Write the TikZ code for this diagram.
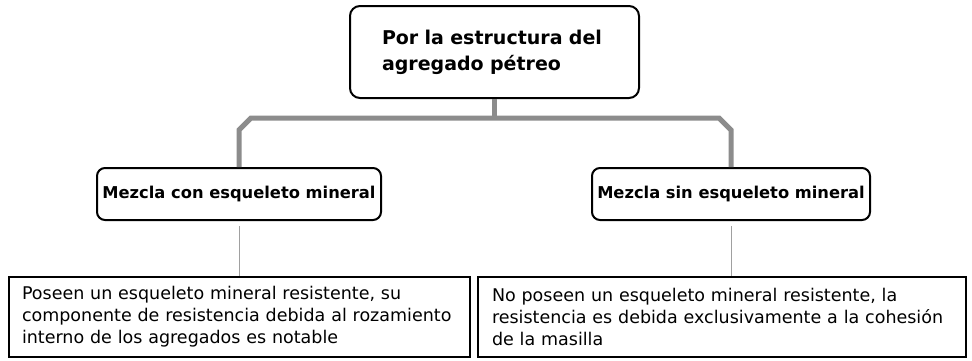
\documentclass[tikz,border=0pt]{standalone}
\usepackage{fontspec}
\setmainfont{DejaVu Sans}
\usepackage{tikz}
\usetikzlibrary{calc}
\definecolor{trunkgray}{HTML}{8C8C8C}
\definecolor{leafgray}{HTML}{A0A0A0}

\begin{document}
\begin{tikzpicture}[x=1pt,y=1pt]
\tikzstyle{rootbox}=[draw,line width=2pt,rounded corners=10pt,align=left,text width=225pt,inner xsep=32pt,minimum height=92pt,font=\fontsize{19}{26}\selectfont\bfseries]
\tikzstyle{kindbox}=[draw,line width=2pt,rounded corners=8pt,align=center,minimum height=52pt,font=\fontsize{16.3}{18}\selectfont\bfseries]
\tikzstyle{descbox}=[draw,line width=1.6pt,align=left,minimum height=80pt,font=\fontsize{17.5}{22}\selectfont]
\tikzstyle{trunk}=[draw=trunkgray,line width=5pt]
\tikzstyle{leaf}=[draw=leafgray,line width=1pt]
\useasboundingbox (0,0) rectangle (972,360);
\node[rootbox] (root) at (494.5,308) {Por la estructura del\\agregado pétreo};
\node[kindbox,minimum width=284pt] (con) at (239,166) {Mezcla con esqueleto mineral};
\node[kindbox,minimum width=278pt] (sin) at (731,166) {Mezcla sin esqueleto mineral};
\node[descbox,text width=435pt,inner xsep=13pt] (condesc) at (239.5,43) {Poseen un esqueleto mineral resistente, su\\componente de resistencia debida al rozamiento\\interno de los agregados es notable};
\node[descbox,text width=460pt,inner xsep=14pt] (sindesc) at (722,43) {No poseen un esqueleto mineral resistente, la\\resistencia es debida exclusivamente a la cohesión\\de la masilla};
% tree bar
\coordinate (bar) at (0,242);
\draw[trunk] (root.south) -- (root.south |- bar);
\draw[trunk] (con.north) -- ($(con.north |- bar)+(0,-12)$) -- ($(con.north |- bar)+(12,0)$)
  -- ($(sin.north |- bar)+(-12,0)$) -- ($(sin.north |- bar)+(0,-12)$) -- (sin.north);
\draw[leaf] ($(con.south)+(0,-5)$) -- (con.south |- condesc.north);
\draw[leaf] ($(sin.south)+(0,-5)$) -- (sin.south |- sindesc.north);
\end{tikzpicture}
\end{document}
